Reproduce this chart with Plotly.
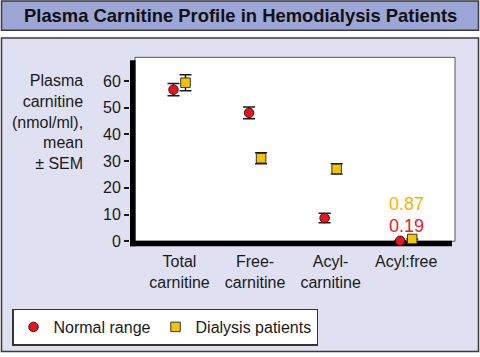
import plotly.graph_objects as go

# ---- data ----
categories = ["Total carnitine", "Free-carnitine", "Acyl-carnitine", "Acyl:free"]
tick_labels = ["Total<br>carnitine", "Free-<br>carnitine", "Acyl-<br>carnitine", "Acyl:free"]
normal_mean = [56.8, 48.1, 8.7, 0.19]
normal_sem = [2.3, 2.2, 1.8, None]
dialysis_mean = [59.4, 31.1, 27.1, 0.87]
dialysis_sem = [3.0, 2.1, 1.9, None]
y_ticks = [0, 10, 20, 30, 40, 50, 60]

W, H = 480, 357
FONT = "Liberation Sans, Arial, Helvetica, sans-serif"
RED = "#E3161E"
GOLD = "#F5C300"
GOLD_TXT = "#F4B400"


def px(x):
    return x / W


def py(y):
    return 1 - y / H


fig = go.Figure()
fig.add_trace(go.Scatter(
    x=categories, y=normal_mean, name="Normal range", mode="markers",
    marker=dict(symbol="circle", size=9.5, color=RED, line=dict(color="#4a1010", width=1)),
    error_y=dict(type="data", array=normal_sem, color="#1a1a1a", thickness=1.5, width=6),
))
fig.add_trace(go.Scatter(
    x=categories, y=dialysis_mean, name="Dialysis patients", mode="markers",
    marker=dict(symbol="square", size=9.5, color=GOLD, line=dict(color="#333333", width=1)),
    error_y=dict(type="data", array=dialysis_sem, color="#1a1a1a", thickness=1.5, width=6),
))

shapes = [
    # panel
    dict(type="rect", xref="paper", yref="paper", x0=px(1.5), x1=px(478.5), y0=py(355.5), y1=py(38.5),
         fillcolor="#DFE0F1", line=dict(color="#3a3a3a", width=1.5), layer="below"),
    # title bar
    dict(type="rect", xref="paper", yref="paper", x0=px(1.5), x1=px(478.5), y0=py(30.5), y1=py(1),
         fillcolor="#9CA6D7", line=dict(color="#3a3a3a", width=1.5), layer="below"),
    # white plot box
    dict(type="rect", xref="paper", yref="paper", x0=px(135), x1=px(455), y0=py(244), y1=py(58),
         fillcolor="#FFFFFF", line=dict(color="#555555", width=1), layer="below"),
    # shadow: left bar
    dict(type="rect", xref="paper", yref="paper", x0=px(130), x1=px(135.5), y0=py(249), y1=py(61),
         fillcolor="#000000", line=dict(width=0), layer="below"),
    # shadow: bottom bar
    dict(type="rect", xref="paper", yref="paper", x0=px(130), x1=px(452), y0=py(249), y1=py(243.5),
         fillcolor="#000000", line=dict(width=0), layer="below"),
]

annotations = [
    dict(text="<b>Plasma Carnitine Profile in Hemodialysis Patients</b>", xref="paper", yref="paper",
         x=px(240), y=py(16), xanchor="center", yanchor="middle", showarrow=False,
         font=dict(size=18.4, color="#111111", family=FONT)),
    dict(text="Plasma<br>carnitine<br>(nmol/ml),<br>mean<br>± SEM", xref="paper", yref="paper",
         x=px(85), y=py(123), xanchor="right", yanchor="middle", align="right", showarrow=False,
         font=dict(size=16, color="#1a1a1a", family=FONT)),
    dict(text=f"{dialysis_mean[3]:.2f}", x=categories[3], y=13.8, xanchor="center", yanchor="middle",
         showarrow=False, font=dict(size=18, color=GOLD_TXT, family=FONT)),
    dict(text=f"{normal_mean[3]:.2f}", x=categories[3], y=5.6, xanchor="center", yanchor="middle",
         showarrow=False, font=dict(size=18, color="#E8202A", family=FONT)),
]

fig.update_layout(
    width=W, height=H,
    margin=dict(l=0, r=0, t=0, b=0),
    paper_bgcolor="#FFFFFF",
    plot_bgcolor="rgba(0,0,0,0)",
    font=dict(family=FONT, size=16, color="#1a1a1a"),
    scattermode="group",
    scattergap=0.682,
    shapes=shapes,
    annotations=annotations,
    showlegend=True,
    legend=dict(orientation="h", x=px(12), y=py(312), xanchor="left", yanchor="top",
                bgcolor="#FFFFFF", bordercolor="#333333", borderwidth=1.5,
                font=dict(size=16, family=FONT, color="#1a1a1a")),
    xaxis=dict(domain=[px(130), px(455)], type="category", categoryorder="array",
               categoryarray=categories, range=[-0.655, 3.646],
               tickvals=categories, ticktext=tick_labels,
               showline=False, showgrid=False, zeroline=False, ticks="",
               ticklabelstandoff=4,
               tickfont=dict(size=16, family=FONT, color="#1a1a1a")),
    yaxis=dict(domain=[py(249), py(58)], range=[-1.85, 68.89],
               tickvals=y_ticks, showline=False, showgrid=False, zeroline=False,
               ticks="outside", ticklen=5, tickwidth=1.5, tickcolor="#1a1a1a",
               tickfont=dict(size=16, family=FONT, color="#1a1a1a")),
)

fig.write_html("out.html", config={"displayModeBar": False},
               post_script="document.body.style.margin='0';document.body.style.overflow='hidden';")
